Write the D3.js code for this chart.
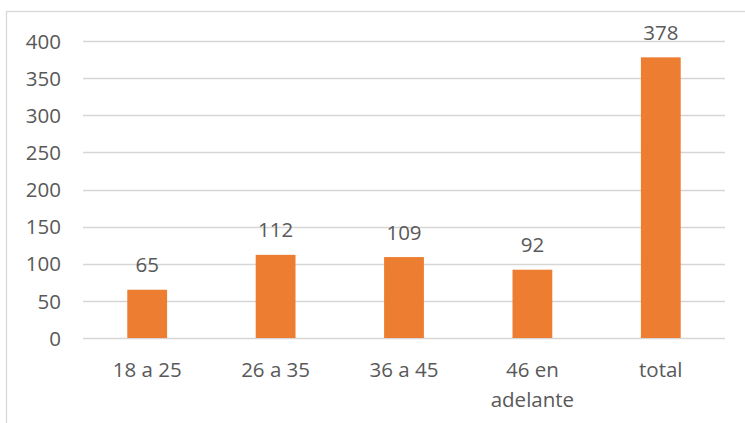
<!DOCTYPE html>
<html>
<head>
<meta charset="utf-8">
<script src="https://cdn.jsdelivr.net/npm/d3@7"></script>
<style>
  html, body { margin: 0; padding: 0; background: #ffffff; overflow: hidden; }
  svg { display: block; }
  text { font-family: "Open Sans", "Noto Sans", sans-serif; fill: #595959; }
</style>
</head>
<body>
<script>
const categories = ["18 a 25", "26 a 35", "36 a 45", "46 en adelante", "total"];
const categoryLines = [["18 a 25"], ["26 a 35"], ["36 a 45"], ["46 en", "adelante"], ["total"]];
const values = [65, 112, 109, 92, 378];
const yTicks = [0, 50, 100, 150, 200, 250, 300, 350, 400];

const W = 745, H = 423;
const FS = 20.5;
const svg = d3.select("body").append("svg").attr("width", W).attr("height", H);

// chart border (cropped at right/bottom)
svg.append("rect")
  .attr("x", 6.5).attr("y", 11.5)
  .attr("width", W + 10).attr("height", H + 10)
  .attr("fill", "none").attr("stroke", "#d9d9d9").attr("stroke-width", 1.3);

const plotLeft = 83, plotRight = 725, plotTop = 41, plotBottom = 338;

const x = d3.scaleBand().domain(categories).range([plotLeft, plotRight]).paddingInner(0.69).paddingOuter(0.345);
const y = d3.scaleLinear().domain([0, 400]).range([plotBottom, plotTop]);

// gridlines
svg.append("g").selectAll("line").data(yTicks).join("line")
  .attr("x1", plotLeft).attr("x2", plotRight)
  .attr("y1", d => Math.round(y(d)) + 0.5).attr("y2", d => Math.round(y(d)) + 0.5)
  .attr("stroke", "#d6d6d6").attr("stroke-width", 1.4);

// y axis labels
const yAxis = d3.axisLeft(y).tickValues(yTicks).tickSize(0).tickPadding(0);
const gy = svg.append("g").attr("transform", "translate(61,0)").call(yAxis);
gy.select(".domain").remove();
gy.selectAll("text").attr("font-size", FS).attr("fill", "#595959")
  .style("font-family", "'Open Sans', sans-serif").attr("dy", "0.35em");

// bars
svg.append("g").selectAll("rect").data(values).join("rect")
  .attr("x", (d, i) => x(categories[i]))
  .attr("width", x.bandwidth())
  .attr("y", d => y(d))
  .attr("height", d => y(0) - y(d))
  .attr("fill", "#ED7D31");

// value labels
svg.append("g").selectAll("text").data(values).join("text")
  .attr("x", (d, i) => x(categories[i]) + x.bandwidth() / 2)
  .attr("y", d => y(d) - 17.5)
  .attr("text-anchor", "middle")
  .attr("font-size", FS)
  .text(d => d);

// category labels
const gx = svg.append("g");
categories.forEach((c, i) => {
  const t = gx.append("text")
    .attr("x", x(c) + x.bandwidth() / 2)
    .attr("y", 377)
    .attr("text-anchor", "middle")
    .attr("font-size", FS);
  categoryLines[i].forEach((ln, j) => {
    t.append("tspan").attr("x", x(c) + x.bandwidth() / 2).attr("dy", j === 0 ? 0 : 29.5).text(ln);
  });
});
</script>
</body>
</html>
